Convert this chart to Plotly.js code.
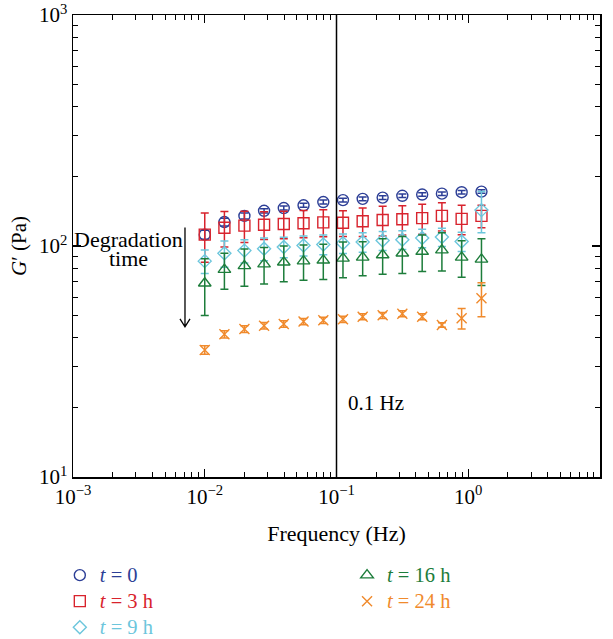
<!DOCTYPE html>
<html>
<head>
<meta charset="utf-8">
<script src="https://cdn.plot.ly/plotly-3.0.1.min.js"></script>
<style>html,body{margin:0;padding:0;background:#fff;}#chart{width:613px;height:639px;}</style>
</head>
<body>
<div id="chart"></div>
<script>
// Frequency (Hz)
const freq = [0.01, 0.0141, 0.02, 0.0282, 0.0398, 0.0562, 0.0794, 0.112, 0.158, 0.224, 0.316, 0.447, 0.631, 0.891, 1.26];
// G' (Pa) for each degradation time, with error bars
const g_t0 = [112, 127, 135, 142, 146, 150, 155, 158, 160, 162, 165, 167, 168.5, 171, 172];
const e_t0 = [5, 5, 4, 3, 3, 3, 3, 3, 3, 3, 3, 3, 3, 3, 3];
const g_t3 = [112, 120, 122.5, 123.6, 124.5, 125.5, 126.6, 126, 128, 129.5, 130.5, 132, 135, 131, 135];
const e_t3 = [27, 21, 19, 17, 17, 17, 17, 16, 18, 19, 19, 19.5, 19, 19, 15];
const g_t9 = [86, 93, 95.5, 97.3, 99, 100.5, 101.6, 102.7, 104, 105.6, 106.5, 108.3, 109.4, 104.6, 143];
const e_t9 = [10, 12, 11, 11, 10, 10, 10, 10, 10, 10, 10, 10, 10, 10, 29];
const g_t16 = [69, 79, 82, 83.5, 85, 86, 86.7, 88.4, 89.3, 91.4, 93, 94.6, 96, 89.3, 87.5];
const e_t16 = [19, 14, 15, 15, 15, 15, 15, 15.6, 15, 16, 17, 17, 18, 16, 20];
const g_t24 = [35.5, 41.5, 43.7, 45.2, 46, 47.1, 47.7, 48.2, 49.4, 50.1, 50.9, 49.4, 45.5, 48.7, 59.4];
const e_t24 = [1.5, 1.5, 1.5, 1.5, 1.5, 1.5, 1.5, 1.5, 1.5, 1.5, 1.5, 1.5, 1, 5, 10];

const seriesNames = ['<i>t</i> = 0', '<i>t</i> = 3 h', '<i>t</i> = 9 h', '<i>t</i> = 16 h', '<i>t</i> = 24 h'];
const xTickVals = [0.001, 0.01, 0.1, 1, 10];
const xTickText = ['10<sup>−3</sup>', '10<sup>−2</sup>', '10<sup>−1</sup>', '10<sup>0</sup>', '10<sup>1</sup>'];
const yTickVals = [10, 100, 1000];
const yTickText = ['10<sup>1</sup>', '10<sup>2</sup>', '10<sup>3</sup>'];

const colors = ['#2c3e96', '#d8232d', '#6cc6dc', '#1d7d3b', '#f08a2c'];
const symbols = ['circle-open', 'square-open', 'diamond-open', 'triangle-up-open', 'x-thin-open'];
const sizes = [11, 11, 10, 11, 10];
const ys = [g_t0, g_t3, g_t9, g_t16, g_t24];
const es = [e_t0, e_t3, e_t9, e_t16, e_t24];
const legends = ['legend', 'legend', 'legend', 'legend2', 'legend2'];

const traces = ys.map((y, i) => ({
  type: 'scatter', mode: 'markers', x: freq, y: y,
  name: '<span style="color:' + colors[i] + ';font-size:20.5px">' + seriesNames[i] + '</span>',
  legend: legends[i],
  marker: {symbol: symbols[i], size: sizes[i], color: colors[i], line: {color: colors[i], width: 1.4}},
  error_y: {type: 'data', array: es[i], visible: true, color: colors[i], thickness: 1.5, width: 4}
}));

// minor tick positions (2..9 of each decade)
const minorX = [], minorY = [];
[-3, -2, -1, 0].forEach(d => { for (let k = 2; k <= 9; k++) minorX.push(k * Math.pow(10, d)); });
[1, 2].forEach(d => { for (let k = 2; k <= 9; k++) minorY.push(k * Math.pow(10, d)); });

const fontFam = 'Liberation Serif, Times New Roman, serif';
const axisCommon = {
  type: 'log', showgrid: false, zeroline: false, showline: true, linecolor: '#000', linewidth: 1.5,
  mirror: 'ticks', ticks: 'inside', ticklen: 8, tickwidth: 1.2, tickcolor: '#000',
  tickfont: {family: fontFam, size: 21, color: '#000'}
};

const layout = {
  width: 613, height: 639,
  margin: {l: 73, r: 13, t: 15, b: 162, autoexpand: false},
  paper_bgcolor: '#fff', plot_bgcolor: '#fff',
  font: {family: fontFam, size: 20, color: '#000'},
  xaxis: Object.assign({}, axisCommon, {
    range: [-3, 1], tickmode: 'array', tickvals: xTickVals, ticktext: xTickText,
    minor: {tickmode: 'array', tickvals: minorX, ticks: 'inside', ticklen: 5, tickwidth: 1, tickcolor: '#000', showgrid: false},
    title: {text: 'Frequency (Hz)', font: {family: fontFam, size: 22, color: '#000'}, standoff: 18}
  }),
  yaxis: Object.assign({}, axisCommon, {
    range: [1, 3], tickmode: 'array', tickvals: yTickVals, ticktext: yTickText,
    minor: {tickmode: 'array', tickvals: minorY, ticks: 'inside', ticklen: 5, tickwidth: 1, tickcolor: '#000', showgrid: false},
    title: {text: '<i>G</i>′ (Pa)', font: {family: fontFam, size: 21, color: '#000'}, standoff: 6}
  }),
  showlegend: true,
  legend: {x: -0.025, xanchor: 'left', y: -0.1735, yanchor: 'top', orientation: 'v',
    font: {family: fontFam, size: 17.7}, bgcolor: 'rgba(0,0,0,0)', tracegroupgap: 0},
  legend2: {x: 0.52, xanchor: 'left', y: -0.1735, yanchor: 'top', orientation: 'v',
    font: {family: fontFam, size: 17.7}, bgcolor: 'rgba(0,0,0,0)', tracegroupgap: 0},
  shapes: [
    {type: 'line', xref: 'x', yref: 'paper', x0: 0.1, x1: 0.1, y0: 0, y1: 1, line: {color: '#000', width: 1.5}},
    {type: 'path', xref: 'paper', yref: 'paper',
     path: 'M 0.2125 0.54 L 0.2125 0.325 M 0.203 0.3423 L 0.2125 0.325 L 0.222 0.3423',
     line: {color: '#000', width: 1.3}}
  ],
  annotations: [
    {xref: 'paper', yref: 'paper', x: 0.106, y: 0.513, text: 'Degradation', showarrow: false,
     font: {family: fontFam, size: 22, color: '#000'}, xanchor: 'center', yanchor: 'middle'},
    {xref: 'paper', yref: 'paper', x: 0.106, y: 0.472, text: 'time', showarrow: false,
     font: {family: fontFam, size: 22, color: '#000'}, xanchor: 'center', yanchor: 'middle'},
    {xref: 'paper', yref: 'paper', x: 0.575, y: 0.160, text: '0.1 Hz', showarrow: false,
     font: {family: fontFam, size: 21, color: '#000'}, xanchor: 'center', yanchor: 'middle'}
  ]
};

Plotly.newPlot('chart', traces, layout, {displayModeBar: false, staticPlot: true});
</script>
</body>
</html>
